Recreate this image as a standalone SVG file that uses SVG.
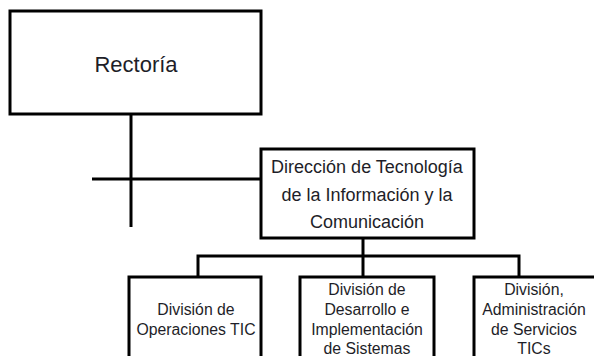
<svg xmlns="http://www.w3.org/2000/svg" width="594" height="356" viewBox="0 0 594 356">
<style>
.box{fill:#fff;stroke:#000;stroke-width:3}
.ln{fill:none;stroke:#000;stroke-width:3}
text{font-family:"Liberation Sans",Arial,sans-serif;fill:#1e1e28;text-anchor:middle}
.big{font-size:22px}
.mid{font-size:18px}
.sm{font-size:15.8px}
</style>
<rect width="594" height="356" fill="#fff"/>
<g id="connectors">
<path class="ln" d="M131 114V227"/>
<path class="ln" d="M92 179H261"/>
<path class="ln" d="M363 238V256"/>
<path class="ln" d="M198 277V256H519V277"/>
<path class="ln" d="M363 256V277"/>
</g>
<g id="rectoria">
<rect class="box" x="10" y="11" width="251" height="103"/>
<text class="big" x="136" y="72">Rectoría</text>
</g>
<g id="direccion">
<rect class="box" x="261" y="149" width="213" height="89"/>
<text class="mid" x="367" y="173">Dirección de Tecnología</text>
<text class="mid" x="367" y="201">de la Información y la</text>
<text class="mid" x="367" y="228">Comunicación</text>
</g>
<g id="div-operaciones">
<rect class="box" x="129" y="277" width="132" height="90"/>
<text class="sm" x="196" y="315">División de</text>
<text class="sm" x="196" y="335">Operaciones TIC</text>
</g>
<g id="div-desarrollo">
<rect class="box" x="300" y="277" width="134" height="90"/>
<text class="sm" x="367" y="295">División de</text>
<text class="sm" x="367" y="315">Desarrollo e</text>
<text class="sm" x="367" y="335">Implementación</text>
<text class="sm" x="367" y="354">de Sistemas</text>
</g>
<g id="div-servicios">
<rect class="box" x="474" y="277" width="124" height="90"/>
<text class="sm" x="534" y="295">División,</text>
<text class="sm" x="534" y="315">Administración</text>
<text class="sm" x="534" y="335">de Servicios</text>
<text class="sm" x="534" y="354">TICs</text>
</g>
</svg>
